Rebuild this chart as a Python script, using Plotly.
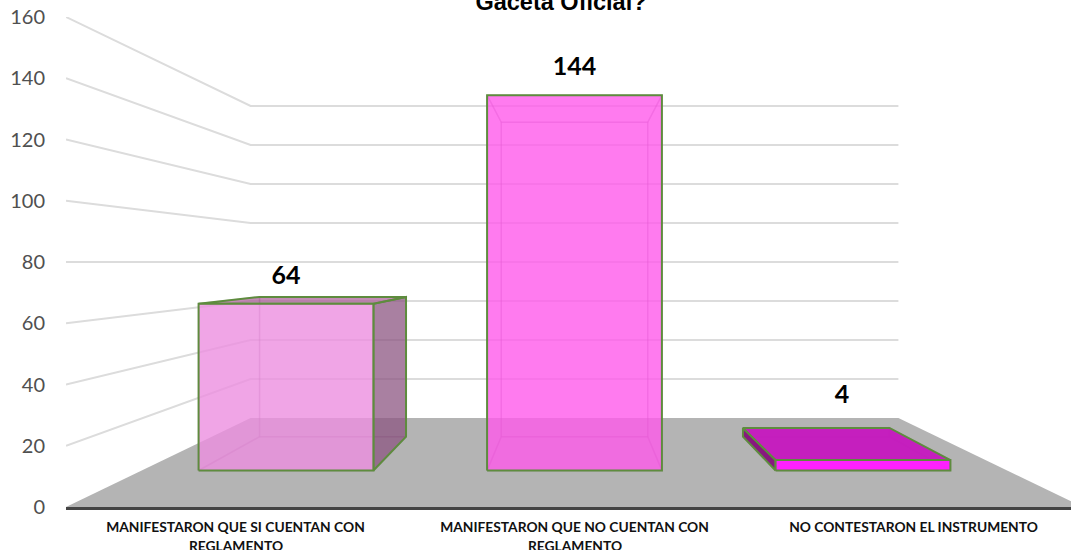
import plotly.graph_objects as go

# ---- data ----
categories = ["MANIFESTARON QUE SI CUENTAN CON", "MANIFESTARON QUE NO CUENTAN CON", "NO CONTESTARON EL INSTRUMENTO"]
categories_line2 = ["REGLAMENTO", "REGLAMENTO", ""]
values = [64, 144, 4]
y_ticks = [0, 20, 40, 60, 80, 100, 120, 140, 160]
title_text = "Gaceta Oficial?"

# ---- styles per bar ----
front_fill = ["rgba(236,142,224,0.8)", "rgba(255,90,235,0.8)", "rgba(255,30,255,0.98)"]
side_fill = ["rgba(140,85,130,0.75)", "rgba(255,90,235,0.05)", "rgba(135,20,125,0.98)"]
top_fill = ["rgba(170,90,150,0.7)", "rgba(255,90,235,0.05)", "rgba(197,28,190,0.98)"]
EDGE = "#5E8C3E"
FAINT = "rgba(120,70,110,0.22)"

# ---- 3-D layout of the chart: perspective toward the horizon at value 80 ----
HORIZON = 80
S_WALL = 0.637
S_BAR_FRONT = 0.851
S_BAR_BACK = 0.713
HALF_W = 0.303
CENTER = 1
X_LEFT, X_RIGHT = -0.5, 2.5


def project(cat, value, s):
    return CENTER + s * (cat - CENTER), HORIZON + s * (value - HORIZON)


def poly(points):
    xs, ys = zip(*[project(*p) for p in points])
    return list(xs) + [xs[0]], list(ys) + [ys[0]]


fig = go.Figure()


def add_face(points, fill, line, width=2):
    xs, ys = poly(points)
    fig.add_trace(go.Scatter(x=xs, y=ys, mode="lines", fill="toself", fillcolor=fill,
                             line=dict(color=line, width=width), hoverinfo="skip",
                             cliponaxis=False, showlegend=False))


# gridlines along the side wall and the back wall
for t in y_ticks[1:]:
    xs, ys = zip(*[project(X_LEFT, t, 1), project(X_LEFT, t, S_WALL), project(X_RIGHT, t, S_WALL)])
    fig.add_trace(go.Scatter(x=xs, y=ys, mode="lines", line=dict(color="#DCDCDC", width=2),
                             hoverinfo="skip", cliponaxis=False, showlegend=False))

# floor
add_face([(X_LEFT, 0, 1), (X_LEFT, 0, S_WALL), (X_RIGHT, 0, S_WALL), (X_RIGHT, 0, 1)],
         "#B4B4B4", "rgba(0,0,0,0)", 0)

# bars
for i, v in enumerate(values):
    l, r = i - HALF_W, i + HALF_W
    f, b = S_BAR_FRONT, S_BAR_BACK
    ghost = "rgba(255,255,255,0)"
    # hidden faces
    add_face([(l, 0, b), (r, 0, b), (r, v, b), (l, v, b)], ghost, FAINT, 1.5)
    add_face([(l, 0, f), (r, 0, f), (r, 0, b), (l, 0, b)], ghost, FAINT, 1.5)
    left_visible = i > CENTER
    right_visible = i < CENTER
    top_visible = v < HORIZON
    add_face([(l, 0, f), (l, 0, b), (l, v, b), (l, v, f)],
             side_fill[i] if left_visible else ghost, EDGE if left_visible else FAINT, 2 if left_visible else 1.5)
    add_face([(r, 0, f), (r, 0, b), (r, v, b), (r, v, f)],
             side_fill[i] if right_visible else ghost, EDGE if right_visible else FAINT, 2 if right_visible else 1.5)
    add_face([(l, v, f), (r, v, f), (r, v, b), (l, v, b)],
             top_fill[i] if top_visible else ghost, EDGE if top_visible else FAINT, 2 if top_visible else 1.5)
    add_face([(l, 0, f), (r, 0, f), (r, v, f), (l, v, f)], front_fill[i], EDGE, 2)

# data labels (hand placed in the reference)
label_x = [0.149, 1.0, 1.789]
label_y = [75, 143, 36]
fig.add_trace(go.Scatter(x=label_x, y=label_y, mode="text", text=[str(v) for v in values],
                         textposition="middle center", hoverinfo="skip", cliponaxis=False,
                         textfont=dict(family="Lato", size=25, color="#000000", weight="bold"),
                         showlegend=False))

for i, line2 in enumerate(categories_line2):
    if line2:
        fig.add_annotation(x=i, xref="x", y=-38 / 490, yref="paper", text="<b>%s</b>" % line2,
                           showarrow=False, yanchor="middle", xanchor="center",
                           font=dict(family="Lato", size=13.8, color="#111111"))

fig.update_layout(
    width=1071, height=550, margin=dict(l=66, r=0, t=17, b=43),
    paper_bgcolor="white", plot_bgcolor="rgba(0,0,0,0)", showlegend=False,
    title=dict(text="<b>%s</b>" % title_text, x=561 / 1071, xanchor="center", xref="container",
               y=1 - 2 / 550, yanchor="middle", yref="container",
               font=dict(family="Liberation Sans", size=23.5, color="#000000")),
    xaxis=dict(range=[X_LEFT, (1071 - 574.5) / 339 + CENTER], tickmode="array", tickvals=[0, 1, 2],
               ticktext=["<b>%s</b>" % c for c in categories], showgrid=False, zeroline=False,
               showline=True, linecolor="#444444", linewidth=3, ticks="outside", ticklen=5,
               tickcolor="rgba(0,0,0,0)", tickfont=dict(family="Lato", size=13.8, color="#111111")),
    yaxis=dict(range=[0, 160], tickmode="array", tickvals=y_ticks, showgrid=False, zeroline=False,
               showline=False, ticks="outside", ticklen=16, tickcolor="rgba(0,0,0,0)",
               tickfont=dict(family="Lato", size=20, color="#505050")),
)

fig.write_html("out.html", config={"displayModeBar": False},
               post_script="document.body.style.margin='0';document.body.style.overflow='hidden';")
